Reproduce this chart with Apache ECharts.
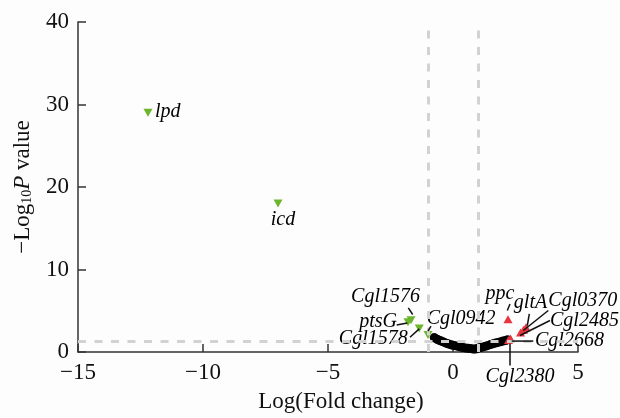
<!DOCTYPE html>
<html><head><meta charset="utf-8">
<script src="https://cdn.jsdelivr.net/npm/echarts@6/dist/echarts.min.js"></script>
<style>html,body{margin:0;padding:0;background:#fdfdfd}#c{width:620px;height:418px}</style>
</head><body><div id="c"></div>
<script>
// ---- data ----
const blackX = [-0.75,-0.7,-0.62,-0.55,-0.47,-0.4,-0.32,-0.25,-0.17,-0.08,0.0,0.1,0.2,0.3,0.4,0.5,0.6,0.7,0.8,0.88,
                0.95,1.02,1.1,1.2,1.3,1.4,1.5,1.6,1.7,1.8,1.9,2.0,2.1,2.18];
const blackY = [1.75,1.65,1.52,1.42,1.32,1.23,1.13,1.04,0.96,0.88,0.82,0.75,0.68,0.6,0.54,0.49,0.45,0.41,0.37,0.35,
                0.4,0.48,0.55,0.62,0.7,0.8,0.9,1.0,1.08,1.16,1.24,1.32,1.4,1.47];
const downNames = ['lpd','icd','Cgl1576','ptsG','Cgl1578','Cgl0942'];
const downX = [-12.2,-7.0,-1.68,-1.8,-1.35,-1.0];
const downY = [29.0,18.0,3.85,3.6,2.85,2.05];
const upNames = ['ppc','gltA','Cgl0370','Cgl2485','Cgl2668','Cgl2380'];
const upX = [2.2,2.92,2.82,2.7,2.3,2.22];
const upY = [3.97,3.0,2.7,2.35,1.65,1.45];
const xTicks = {min:-15,max:5,interval:5};
const yTicks = {min:0,max:40,interval:10};
const pCut = 1.3, fcCut = [-1, 1];

// ---- label layout (pixel offsets from the point) ----
const labelPos = {
  lpd:{dx:7,dy:-1,align:'left'},
  icd:{dx:5,dy:16,align:'center'},
  Cgl1576:{dx:-25.5,dy:-23,align:'center'},
  ptsG:{dx:-11,dy:-1,align:'right'},
  Cgl1578:{dx:-46,dy:10.4,align:'center'},
  Cgl0942:{dx:-1.3,dy:-16.2,align:'left'},
  ppc:{dx:-8,dy:-25,align:'center'},
  gltA:{dx:4.5,dy:-25,align:'center'},
  Cgl0370:{dx:24.8,dy:-28.5,align:'left'},
  Cgl2485:{dx:29.5,dy:-12.1,align:'left'},
  Cgl2668:{dx:24.5,dy:2,align:'left'},
  Cgl2380:{dx:11.5,dy:37.1,align:'center'}
};
const leaders = {
  Cgl1576:[-2.7,-12.3,1.7,-5.7],
  ptsG:[-11.3,2.7,-0.7,0.7],
  Cgl1578:[-9.25,8.7,0,0.4],
  Cgl0942:[0,-4,3,-9],
  ppc:[2,-15.3,-0.7,-8.7],
  gltA:[3.3,-13.3,1.3,-1.7],
  Cgl0370:[24.8,-19.2,-0.2,0.8],
  Cgl2485:[29.5,-12.1,-0.5,2.9],
  Cgl2668:[22.8,2.7,1.2,2.7],
  Cgl2380:[1.5,3.8,1.5,25.4]
};

const FONT = '"Liberation Serif","Times New Roman",serif';
const chart = echarts.init(document.getElementById('c'), null, {renderer:'canvas'});
const fmt = v => v < 0 ? '\u2212' + Math.abs(v) : String(v);
const labelCfg = {show:true, formatter:'{b}', fontFamily:FONT, fontStyle:'italic', fontSize:20,
  color:'#000', textBorderWidth:0, opacity:1};
const layoutFn = function (p) {
  const o = labelPos[p.text]; if (!o) return {};
  const cx = p.rect.x + p.rect.width/2, cy = p.rect.y + p.rect.height/2;
  return {x: cx + o.dx, y: cy + o.dy, align: o.align, verticalAlign: 'middle'};
};
function axisCommon() {
  return {
    axisLine:{show:true, onZero:false, lineStyle:{color:'#333', width:1.5}},
    axisTick:{show:true, inside:true, length:8, lineStyle:{color:'#333', width:1.5}},
    splitLine:{show:false},
    axisLabel:{fontFamily:FONT, fontSize:23, color:'#111', margin:9, formatter:fmt}
  };
}
chart.setOption({
  backgroundColor:'#fdfdfd',
  animation:false,
  grid:{left:78, right:42, top:22, bottom:63, containLabel:false},
  xAxis:Object.assign({type:'value', min:xTicks.min, max:xTicks.max, interval:xTicks.interval,
    name:'Log(Fold change)', nameLocation:'middle', nameGap:38,
    nameTextStyle:{fontFamily:FONT, fontSize:23, color:'#111', padding:[0,0,0,26]}}, axisCommon()),
  yAxis:Object.assign({type:'value', min:yTicks.min, max:yTicks.max, interval:yTicks.interval,
    name:'\u2212Log{s|10}{i|P} value', nameLocation:'middle', nameGap:44,
    nameTextStyle:{fontFamily:FONT, fontSize:23, color:'#111',
      rich:{s:{fontFamily:FONT, fontSize:14, color:'#111', padding:[9,0,0,0]},
            i:{fontFamily:FONT, fontSize:23, fontStyle:'italic', color:'#111'}}}}, axisCommon()),
  series:[
    {type:'scatter', data:[], z:1, silent:true,
      markLine:{silent:true, symbol:'none', label:{show:false},
        lineStyle:{color:'#d2d2d2', width:3, type:[8,8.5]},
        data:[{xAxis:fcCut[0]},{xAxis:fcCut[1]},{yAxis:pCut}]}},
    {type:'scatter', z:3, symbol:'circle', symbolSize:9, itemStyle:{color:'#000', opacity:1},
      data: blackX.map((x,i)=>[x, blackY[i]])},
    {type:'scatter', z:4, symbol:'triangle', symbolRotate:180, symbolSize:[9,8],
      itemStyle:{color:'#6cb52d', opacity:1}, label:labelCfg, labelLayout:layoutFn,
      data: downNames.map((n,i)=>({name:n, value:[downX[i], downY[i]]}))},
    {type:'scatter', z:4, symbol:'triangle', symbolSize:[9,8],
      itemStyle:{color:'#e8343d', opacity:1}, label:labelCfg, labelLayout:layoutFn,
      data: upNames.map((n,i)=>({name:n, value:[upX[i], upY[i]]}))}
  ]
});
// leader lines from each labelled point
const g = [];
function addLeaders(names, xs, ys) {
  names.forEach((n,i)=>{
    const L = leaders[n]; if (!L) return;
    const p = chart.convertToPixel({gridIndex:0}, [xs[i], ys[i]]);
    g.push({type:'line', z:100, silent:true,
      shape:{x1:p[0]+L[0], y1:p[1]+L[1], x2:p[0]+L[2], y2:p[1]+L[3]},
      style:{stroke:'#111', lineWidth:1.5}});
  });
}
addLeaders(downNames, downX, downY);
addLeaders(upNames, upX, upY);
chart.setOption({graphic:g});
</script></body></html>
